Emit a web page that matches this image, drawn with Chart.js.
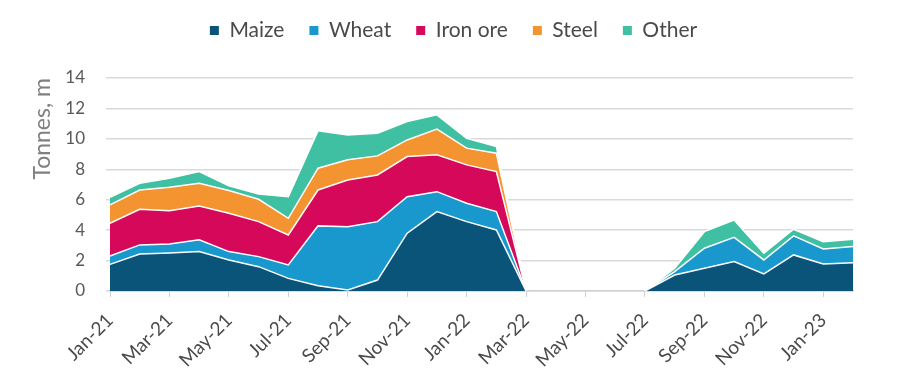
<!DOCTYPE html>
<html>
<head>
<meta charset="utf-8">
<script src="https://cdn.jsdelivr.net/npm/chart.js@4.4.1/dist/chart.umd.min.js"></script>
<style>
  html, body { margin: 0; padding: 0; background: #ffffff; }
  #wrap { width: 900px; height: 383px; }
</style>
</head>
<body>
<div id="wrap"><canvas id="c" width="900" height="383"></canvas></div>
<script>
const months = ["Jan-21","Feb-21","Mar-21","Apr-21","May-21","Jun-21","Jul-21","Aug-21","Sep-21","Oct-21","Nov-21","Dec-21",
                "Jan-22","Feb-22","Mar-22","Apr-22","May-22","Jun-22","Jul-22","Aug-22","Sep-22","Oct-22","Nov-22","Dec-22",
                "Jan-23","Feb-23"];
const maize   = [1.75,2.43,2.50,2.60,2.04,1.60,0.83,0.35,0.07,0.72,3.80,5.22,4.56,4.01,0,0,0,0,0,1.05,1.50,1.93,1.12,2.37,1.78,1.86];
const wheat   = [0.55,0.60,0.59,0.76,0.55,0.66,0.88,3.93,4.16,3.84,2.40,1.31,1.21,1.21,0,0,0,0,0,0.22,1.31,1.60,0.92,1.25,0.98,1.06];
const ironOre = [2.15,2.34,2.19,2.23,2.52,2.30,1.97,2.36,3.07,3.07,2.64,2.42,2.52,2.63,0,0,0,0,0,0,0,0,0,0,0,0];
const steel   = [1.21,1.27,1.54,1.49,1.49,1.47,1.10,1.43,1.32,1.25,1.09,1.69,1.10,1.21,0,0,0,0,0,0,0,0,0,0,0,0];
const other   = [0.50,0.44,0.59,0.77,0.31,0.35,1.42,2.46,1.64,1.49,1.21,0.94,0.65,0.44,0,0,0,0,0,0.23,1.09,1.14,0.44,0.44,0.48,0.48];
const yTicks  = [0,2,4,6,8,10,12,14];

const seriesNames  = ["Maize","Wheat","Iron ore","Steel","Other"];
const seriesValues = [maize, wheat, ironOre, steel, other];
const seriesColors = ["#0b5479","#1898cc","#d5085a","#f39430","#3fc0a2"];

const FONT = "Lato, 'Open Sans', sans-serif";
const TOP_PAD = -5;
const PLOT_TOP = 78;
const LEGEND_SHIFT = 27;
const hideZeroSeg = ctx => (ctx.p0.parsed.y === 0 && ctx.p1.parsed.y === 0) ? 'rgba(0,0,0,0)' : undefined;

const datasets = seriesNames.map((name, i) => ({
  label: name,
  data: seriesValues[i],
  backgroundColor: seriesColors[i],
  borderColor: "#ffffff",
  borderWidth: 1.5,
  pointRadius: 0,
  pointHoverRadius: 0,
  tension: 0,
  fill: i === 0 ? 'origin' : '-1',
  segment: { borderColor: hideZeroSeg }
}));

// make the legend block end where the plot area starts, and centre it like the original
const legendSpacer = {
  id: 'legendSpacer',
  beforeInit(chart) {
    const lg = chart.legend;
    if (!lg) return;
    const orig = lg.fit;
    lg.fit = function () { orig.call(this); this.height = PLOT_TOP - TOP_PAD; };
  },
  afterLayout(chart) {
    const lg = chart.legend;
    if (!lg) return;
    lg.left += LEGEND_SHIFT;
    lg.right += LEGEND_SHIFT;
  }
};

new Chart(document.getElementById('c'), {
  type: 'line',
  data: { labels: months, datasets },
  plugins: [legendSpacer],
  options: {
    responsive: false,
    devicePixelRatio: 1,
    animation: false,
    layout: { padding: { left: 0, right: 47, top: TOP_PAD, bottom: 0 } },
    plugins: {
      tooltip: { enabled: false },
      legend: {
        position: 'top',
        labels: {
          font: { family: FONT, size: 21 },
          color: "#4a4a4a",
          boxWidth: 9,
          boxHeight: 9,
          padding: 25,
          generateLabels: chart => chart.data.datasets.map((ds, i) => ({
            text: ds.label, fillStyle: ds.backgroundColor, strokeStyle: ds.backgroundColor,
            lineWidth: 0, hidden: false, datasetIndex: i, fontColor: "#4a4a4a"
          }))
        }
      }
    },
    scales: {
      x: {
        offset: false,
        grid: { display: true, drawOnChartArea: false, drawTicks: true, tickLength: 6, color: "#d0d0d0" },
        border: { display: true, color: "#d0d0d0", width: 1.5 },
        ticks: {
          autoSkip: false,
          minRotation: 45, maxRotation: 45,
          font: { family: FONT, size: 19 },
          color: "#4a4a4a",
          padding: 12,
          callback: function(val, idx) { return idx % 2 === 0 ? months[idx] : null; }
        },
        afterFit: s => { s.height = 92; }
      },
      y: {
        stacked: true,
        min: 0, max: 14,
        afterBuildTicks: s => { s.ticks = yTicks.map(v => ({ value: v })); },
        grid: { color: "#d9d9d9", lineWidth: 1.5, drawTicks: true, tickLength: 4 },
        border: { display: false },
        ticks: { font: { family: FONT, size: 17 }, color: "#595959", padding: 21 },
        title: {
          display: true, text: "Tonnes, m", align: 'end',
          font: { family: FONT, size: 23 }, color: "#808080",
          padding: { top: 29, bottom: 0 }
        },
        afterFit: s => { s.width = 110; }
      }
    }
  }
});
</script>
</body>
</html>
